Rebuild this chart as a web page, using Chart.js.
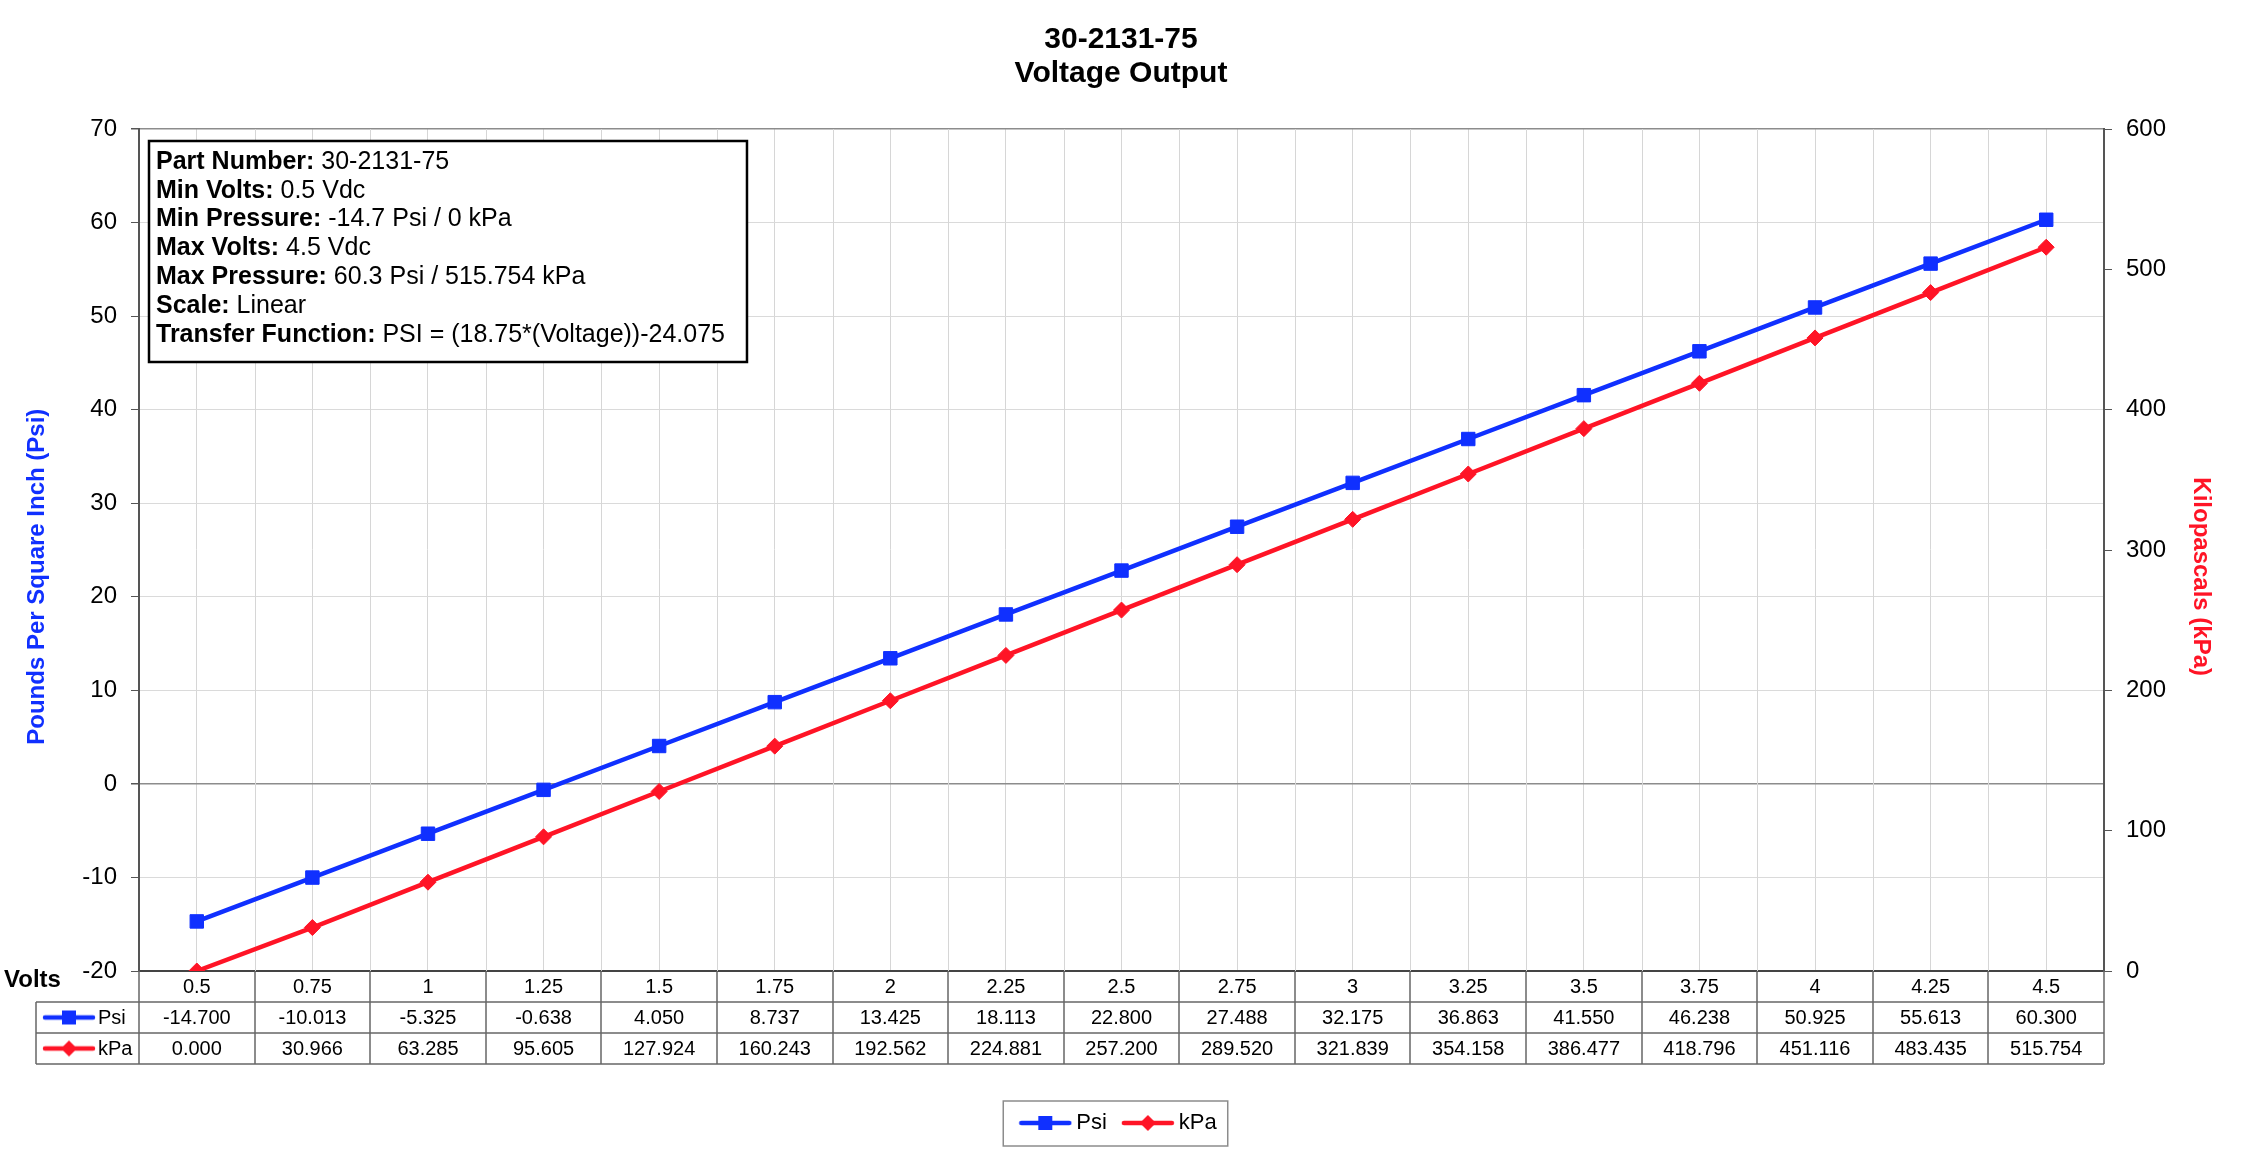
<!DOCTYPE html>
<html>
<head>
<meta charset="UTF-8">
<script src="https://cdn.jsdelivr.net/npm/chart.js"></script>
<style>
    body { margin: 0; background: #fff; }
    #wrap { width: 2242px; height: 1176px; }
</style>
</head>
<body>
<div id="wrap"><canvas id="voltageChart"></canvas></div>

<script>
    const volts = ['0.5', '0.75', '1', '1.25', '1.5', '1.75', '2', '2.25', '2.5',
                   '2.75', '3', '3.25', '3.5', '3.75', '4', '4.25', '4.5'];
    const psi = [-14.700, -10.013, -5.325, -0.638, 4.050, 8.737, 13.425, 18.113, 22.800,
                 27.488, 32.175, 36.863, 41.550, 46.238, 50.925, 55.613, 60.300];
    const kpa = [0.000, 30.966, 63.285, 95.605, 127.924, 160.243, 192.562, 224.881, 257.200,
                 289.520, 321.839, 354.158, 386.477, 418.796, 451.116, 483.435, 515.754];

    const infoLines = [
        ['Part Number:', ' 30-2131-75'],
        ['Min Volts:', ' 0.5 Vdc'],
        ['Min Pressure:', ' -14.7 Psi / 0 kPa'],
        ['Max Volts:', ' 4.5 Vdc'],
        ['Max Pressure:', ' 60.3 Psi / 515.754 kPa'],
        ['Scale:', ' Linear'],
        ['Transfer Function:', ' PSI = (18.75*(Voltage))-24.075']
    ];

    const BLUE = '#1030ff';
    const RED = '#ff1426';
    const FONT = "'Liberation Sans', Arial, Helvetica, sans-serif";
    // the axis titles sit a bit below the middle of the plot in the original
    const PAD = '        ';

    Chart.defaults.font.family = FONT;
    Chart.defaults.color = '#000';

    // little "line + marker" pictures for the legend and the table keys
    function keyIcon(color, shape) {
        const c = document.createElement('canvas');
        c.width = 54;
        c.height = 18;
        const g = c.getContext('2d');
        g.strokeStyle = color;
        g.fillStyle = color;
        g.lineWidth = 4.5;
        g.lineCap = 'round';
        g.beginPath();
        g.moveTo(3, 9);
        g.lineTo(51, 9);
        g.stroke();
        if (shape === 'square') {
            g.fillRect(20, 2, 14, 14);
        } else {
            g.beginPath();
            g.moveTo(27, 1);
            g.lineTo(35, 9);
            g.lineTo(27, 17);
            g.lineTo(19, 9);
            g.closePath();
            g.fill();
        }
        return c;
    }
    const icons = [keyIcon(BLUE, 'square'), keyIcon(RED, 'diamond')];

    const tablePlugin = {
        id: 'dataTable',
        beforeDatasetsDraw(chart) {
            // vertical lines between categories
            const {ctx, chartArea: ca} = chart;
            const colW = (ca.right - ca.left) / volts.length;
            ctx.save();
            ctx.strokeStyle = '#d6d6d6';
            ctx.lineWidth = 1;
            for (let i = 1; i < volts.length; i++) {
                const px = Math.round(ca.left + i * colW) + 0.5;
                ctx.beginPath();
                ctx.moveTo(px, ca.top);
                ctx.lineTo(px, ca.bottom);
                ctx.stroke();
            }
            ctx.restore();
        },
        afterDraw(chart) {
            const {ctx, chartArea: ca, scales: {x}} = chart;
            const rowH = 31;
            const y0 = ca.bottom, y1 = y0 + rowH, y2 = y1 + rowH, y3 = y2 + rowH;
            const colW = (ca.right - ca.left) / volts.length;
            const keyLeft = 36;

            ctx.save();
            ctx.strokeStyle = '#666';
            ctx.lineWidth = 1.5;
            for (let i = 0; i <= volts.length; i++) {
                const px = Math.round(ca.left + i * colW);
                ctx.beginPath();
                ctx.moveTo(px, y0);
                ctx.lineTo(px, y3);
                ctx.stroke();
            }
            [y1, y2, y3].forEach(yy => {
                ctx.beginPath();
                ctx.moveTo(keyLeft, yy);
                ctx.lineTo(ca.right, yy);
                ctx.stroke();
            });
            ctx.beginPath();
            ctx.moveTo(keyLeft, y1);
            ctx.lineTo(keyLeft, y3);
            ctx.stroke();

            // values
            ctx.fillStyle = '#000';
            ctx.font = '20px ' + FONT;
            ctx.textAlign = 'center';
            ctx.textBaseline = 'middle';
            [psi, kpa].forEach((row, r) => {
                const cy = y1 + rowH * r + rowH / 2 + 1;
                row.forEach((v, i) => {
                    ctx.fillText(v.toFixed(3), x.getPixelForValue(i), cy);
                });
            });

            // row keys
            ctx.textAlign = 'left';
            ['Psi', 'kPa'].forEach((name, r) => {
                const cy = y1 + rowH * r + rowH / 2;
                ctx.drawImage(icons[r], 42, cy - 9);
                ctx.fillText(name, 98, cy + 1);
            });

            ctx.font = 'bold 24px ' + FONT;
            ctx.fillText('Volts', 4, y0 + 9);

            // info box
            const bx = ca.left + 10, by = ca.top + 12;
            const lh = 28.8;
            let maxW = 0;
            const widths = infoLines.map(([label, value]) => {
                ctx.font = 'bold 25px ' + FONT;
                const wl = ctx.measureText(label).width;
                ctx.font = '25px ' + FONT;
                const wv = ctx.measureText(value).width;
                maxW = Math.max(maxW, wl + wv);
                return wl;
            });
            const bw = maxW + 29, bh = 221;
            ctx.fillStyle = '#fff';
            ctx.fillRect(bx, by, bw, bh);
            ctx.strokeStyle = '#000';
            ctx.lineWidth = 2.5;
            ctx.strokeRect(bx, by, bw, bh);
            ctx.fillStyle = '#000';
            infoLines.forEach(([label, value], k) => {
                const ty = by + 21 + k * lh;
                ctx.font = 'bold 25px ' + FONT;
                ctx.fillText(label, bx + 7, ty);
                ctx.font = '25px ' + FONT;
                ctx.fillText(value, bx + 7 + widths[k], ty);
            });

            // frame round the legend
            const hb = chart.legend.legendHitBoxes;
            if (hb && hb.length) {
                const last = hb[hb.length - 1];
                const lx = hb[0].left - 22, rx = last.left + last.width + 11;
                const cy = hb[0].top + 11;
                ctx.strokeStyle = '#8c8c8c';
                ctx.lineWidth = 1.5;
                ctx.strokeRect(lx, cy - 22, rx - lx, 45);
            }
            ctx.restore();
        }
    };

    new Chart(document.getElementById('voltageChart'), {
        type: 'line',
        data: {
            labels: volts,
            datasets: [{
                label: 'Psi',
                data: psi,
                yAxisID: 'y',
                borderColor: BLUE,
                backgroundColor: BLUE,
                borderWidth: 4.5,
                pointStyle: 'rect',
                pointRadius: 9.5,
                pointBorderWidth: 1,
                fill: false
            }, {
                label: 'kPa',
                data: kpa,
                yAxisID: 'y1',
                borderColor: RED,
                backgroundColor: RED,
                borderWidth: 4.5,
                pointStyle: 'rectRot',
                pointRadius: 8,
                pointBorderWidth: 1,
                fill: false
            }]
        },
        options: {
            responsive: true,
            maintainAspectRatio: false,
            animation: false,
            layout: { padding: { left: 0, right: 0, top: 0, bottom: 32 } },
            plugins: {
                title: {
                    display: true,
                    text: ['30-2131-75', 'Voltage Output'],
                    color: '#000',
                    font: { size: 30, weight: 'bold', lineHeight: 34 / 30 },
                    padding: { top: 23, bottom: 38 }
                },
                legend: {
                    position: 'bottom',
                    labels: {
                        usePointStyle: true,
                        pointStyleWidth: 40,
                        padding: 21,
                        color: '#000',
                        font: { size: 22 },
                        generateLabels: chart => chart.data.datasets.map((ds, i) => ({
                            text: ds.label,
                            pointStyle: icons[i],
                            fillStyle: ds.borderColor,
                            strokeStyle: ds.borderColor,
                            lineWidth: 0,
                            hidden: false,
                            datasetIndex: i,
                            fontColor: '#000'
                        }))
                    }
                },
                tooltip: { enabled: false }
            },
            scales: {
                x: {
                    offset: true,
                    afterFit: s => { s.height = 120; },
                    grid: { color: '#d6d6d6', lineWidth: 1, drawTicks: false },
                    border: { color: '#444', width: 2 },
                    ticks: { font: { size: 20 }, color: '#000', padding: 4, maxRotation: 0, autoSkip: false }
                },
                y: {
                    position: 'left',
                    min: -20,
                    max: 70,
                    afterFit: s => { s.width = 139; },
                    ticks: { stepSize: 10, font: { size: 24 }, color: '#000', padding: 14 },
                    grid: {
                        color: c => (c.tick.value === 70 || c.tick.value === 0) ? '#8c8c8c' : '#dadada',
                        lineWidth: c => (c.tick.value === 70 || c.tick.value === 0) ? 1.5 : 1,
                        tickLength: 8,
                        tickColor: '#555'
                    },
                    border: { color: '#555', width: 2 },
                    title: {
                        display: true,
                        text: 'Pounds Per Square Inch (Psi)' + PAD,
                        color: BLUE,
                        font: { size: 24, weight: 'bold' },
                        padding: { top: 23, bottom: 0 }
                    }
                },
                y1: {
                    position: 'right',
                    min: 0,
                    max: 600,
                    afterFit: s => { s.width = 138; },
                    ticks: { stepSize: 100, font: { size: 24 }, color: '#000', padding: 14 },
                    grid: { drawOnChartArea: false, tickLength: 8, tickColor: '#555' },
                    border: { color: '#555', width: 2 },
                    title: {
                        display: true,
                        text: PAD + 'Kilopascals (kPa)',
                        color: RED,
                        font: { size: 24, weight: 'bold' },
                        padding: { top: 27, bottom: 0 }
                    }
                }
            }
        },
        plugins: [tablePlugin]
    });
</script>
</body>
</html>
